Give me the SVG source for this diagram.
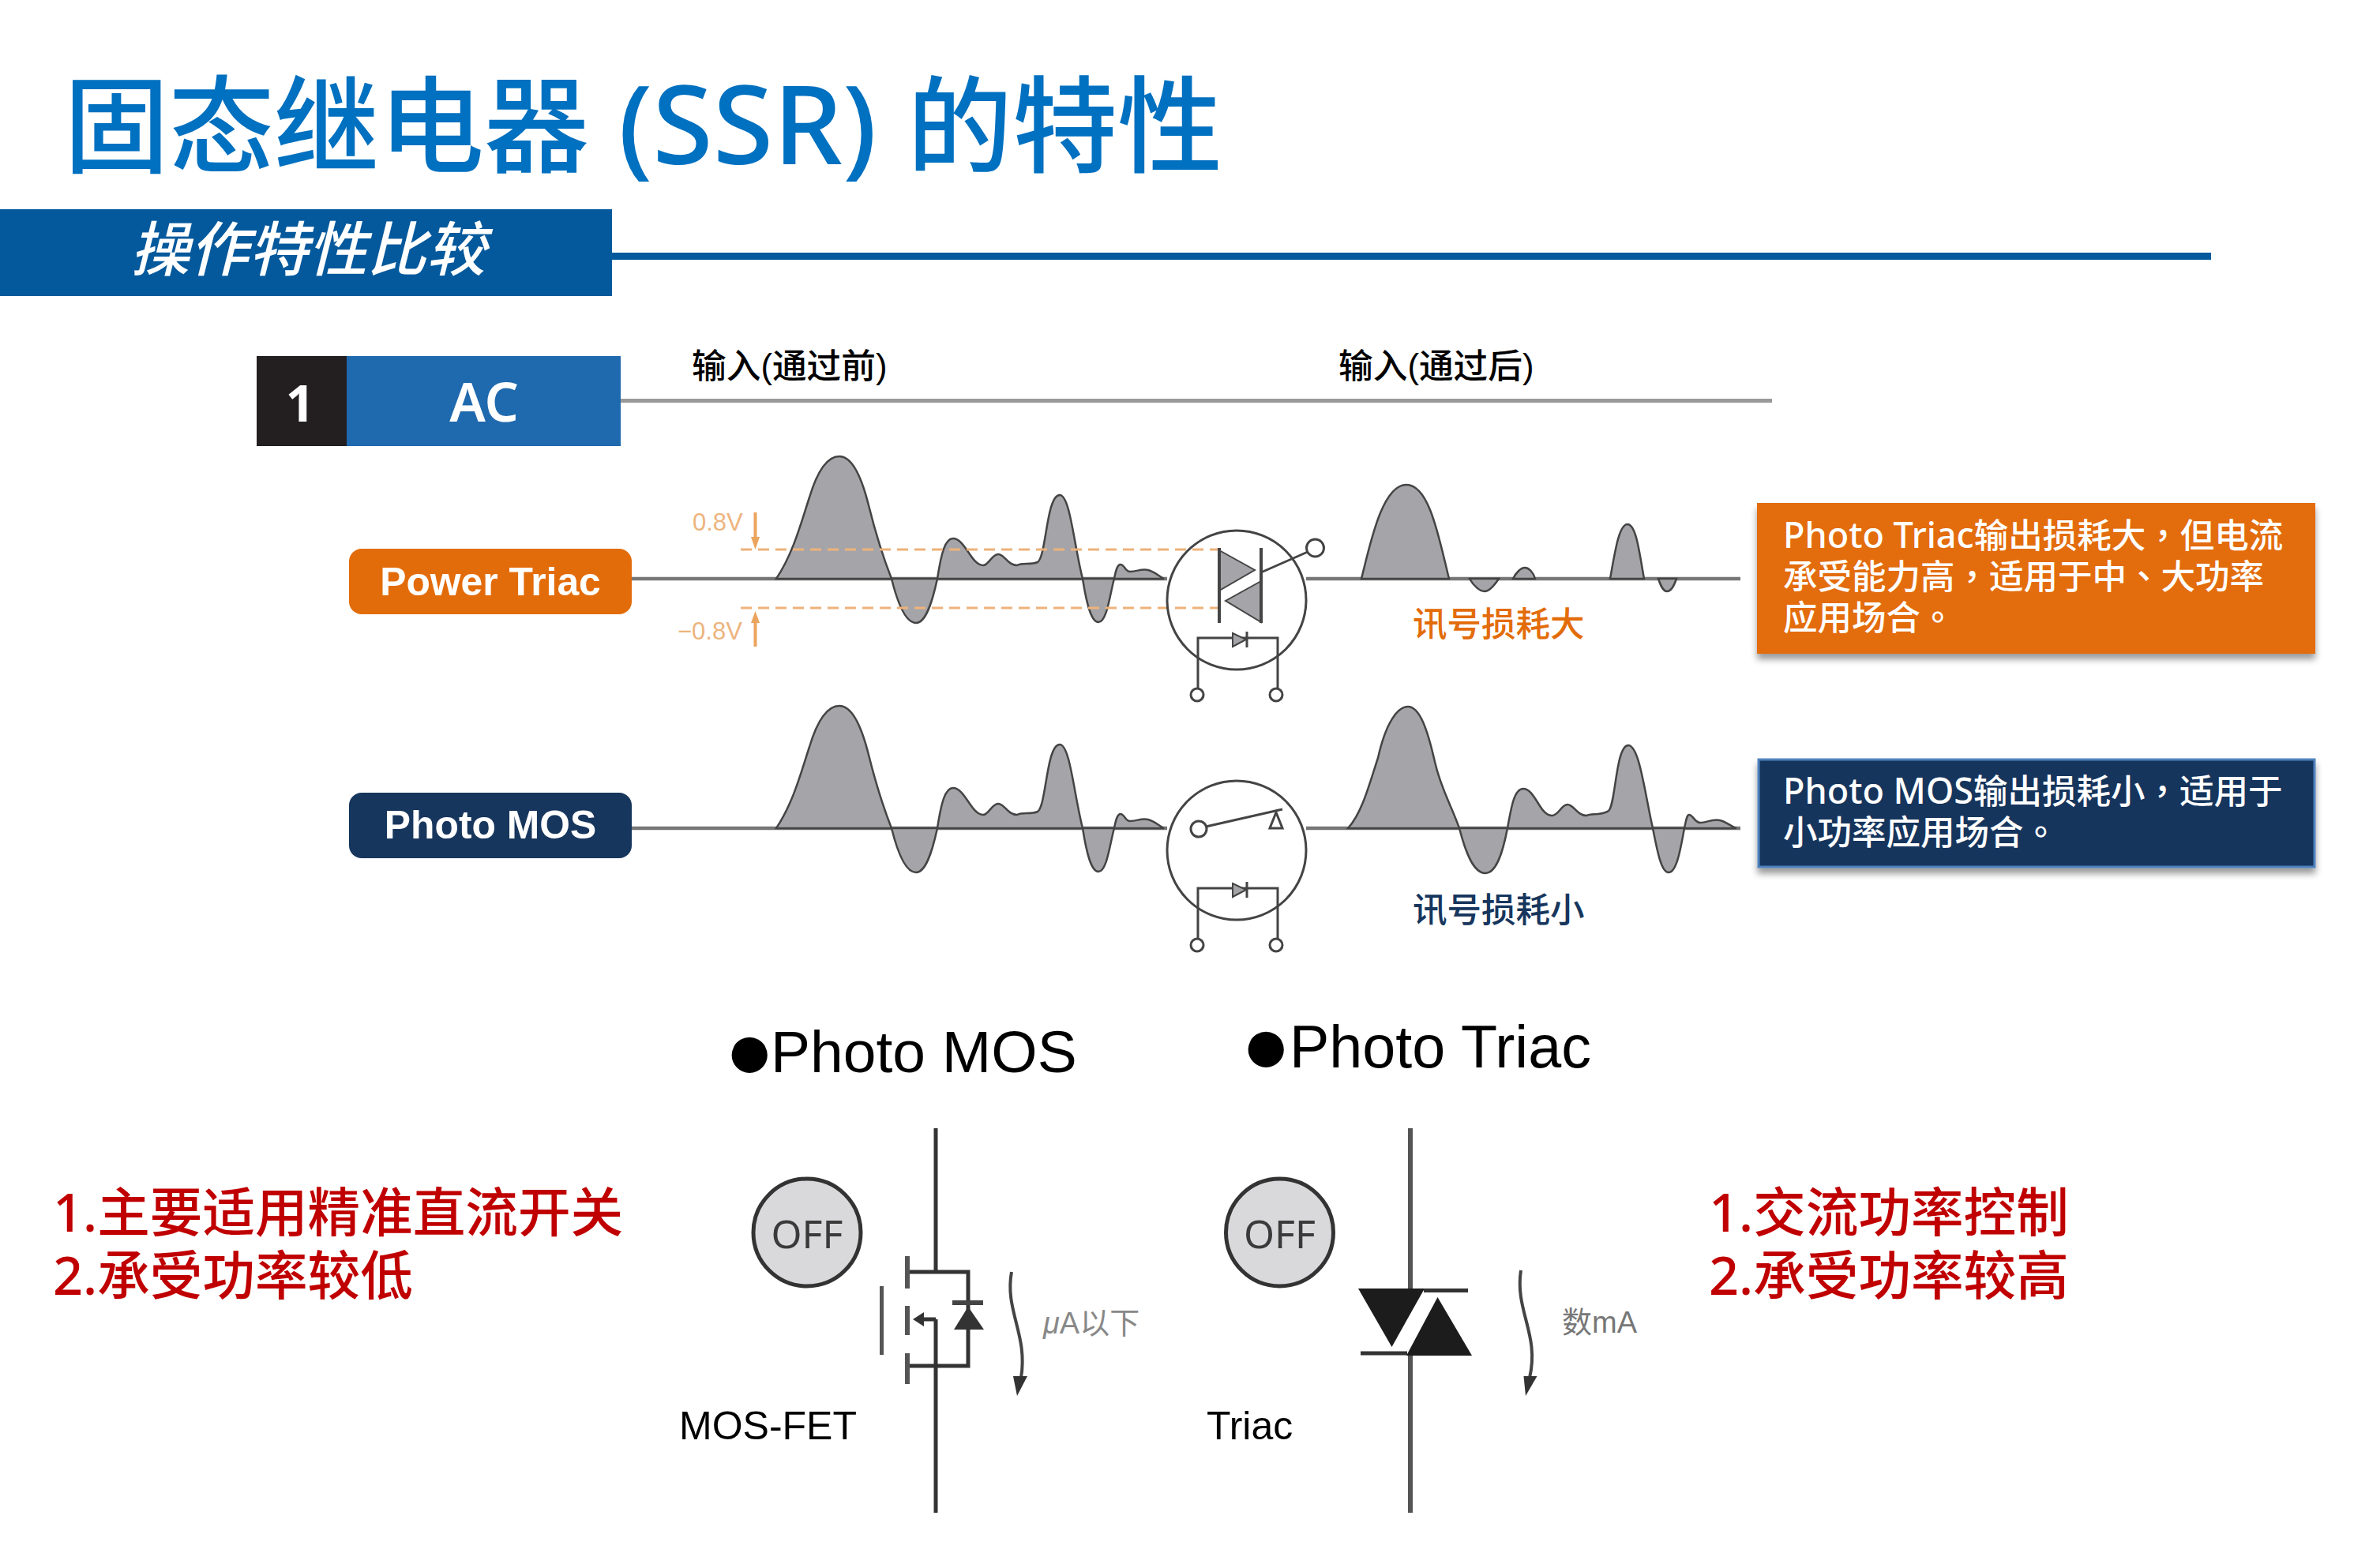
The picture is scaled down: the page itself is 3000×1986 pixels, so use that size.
<svg xmlns="http://www.w3.org/2000/svg" width="3000" height="1986" viewBox="0 0 3000 1986">
<style>
text{font-family:"Noto Sans","Noto Sans CJK SC",sans-serif}
.ar{font-family:"Liberation Sans","Noto Sans CJK SC",sans-serif}
.tc{font-family:"Noto Sans CJK TC",sans-serif}
.wave{fill:#a5a5a9;stroke:#444;stroke-width:2.5}
.base{stroke:#777;stroke-width:4.5;fill:none}
.thin{stroke:#444;stroke-width:3;fill:none}
.term{fill:#fff;stroke:#444;stroke-width:3}
.tri{fill:#a5a5a9;stroke:#444;stroke-width:2}
.dash{stroke:#eeb27a;stroke-width:3;stroke-dasharray:14 8;fill:none}
.box{font-size:43.500px;fill:#fff;font-weight:500}
.lat{font-size:45px}
.red{font-size:66.600px;fill:#c00000;font-weight:500}
.off{fill:#d9d9db;stroke:#333;stroke-width:5}
.offt{font-size:50px;fill:#3a3a3a;text-anchor:middle}
.ln{stroke:#333;stroke-width:5;fill:none}
</style>
<defs>
<filter id="sh" x="-5%" y="-10%" width="110%" height="125%"><feDropShadow dx="0" dy="7" stdDeviation="4" flood-color="#000" flood-opacity=".4"/></filter>
<path id="w1" class="wave" d="M983 733C1005 700 1015 660 1025 630C1037 590 1050 578 1063 578C1078 578 1090 600 1100 640C1110 680 1118 705 1129 733C1137 765 1147 789 1160 789C1172 789 1180 765 1187 733C1192 700 1197 682 1207 682C1222 682 1230 716 1245 716C1252 716 1256 702 1264 702C1272 702 1276 716 1288 716C1295 712 1305 716 1314 712C1325 705 1325 627 1342 627C1355 627 1360 690 1371 733C1376 765 1382 788 1391 788C1402 788 1406 750 1411 733C1413 722 1415 715 1419 715C1424 715 1425 724 1431 724C1440 724 1445 720 1454 722C1462 724 1468 730 1474 733Z"/>
<g id="diode"><path class="thin" d="M1517 873V808H1618V873"/><path class="tri" d="M1561 802L1578 810L1561 819Z"/><path class="thin" d="M1579 800V820"/><circle class="term" cx="1516" cy="880" r="8"/><circle class="term" cx="1616" cy="880" r="8"/></g>
</defs>
<rect width="3000" height="1986" fill="#fff"/>
<g id="title"><text y="208" font-size="133" font-weight="500" fill="#0070c0"><tspan x="81">固态继电器</tspan><tspan x="783" font-size="139">(SSR)</tspan><tspan x="1149">的特性</tspan></text></g>
<g id="banner"><rect x="0" y="265" width="775" height="110" fill="#04599c"/><rect x="775" y="320" width="2025" height="9" fill="#04599c"/><text x="165" y="343" font-size="75" font-style="italic" fill="#fff" font-weight="500">操作特性比较</text></g>
<g id="ac-header"><rect x="325" y="451" width="114" height="114" fill="#231f20"/><rect x="439" y="451" width="347" height="114" fill="#1f69ae"/><text x="380" y="534" font-size="64" fill="#fff" text-anchor="middle" font-weight="700">1</text><text x="613" y="534" font-size="68" fill="#fff" text-anchor="middle" font-weight="600">AC</text></g>
<g id="input-labels"><text class="ar" x="876" y="479" font-size="43.700" font-weight="500" fill="#000">输入(通过前)</text><text class="ar" x="1695" y="479" font-size="43.700" font-weight="500" fill="#000">输入(通过后)</text></g>
<g id="connectors">
<path style="stroke:#999;stroke-width:5;fill:none" d="M786 507.500H2244"/>
<path class="base" d="M800 733H1478M1654 733H2204M800 1049H1478M1654 1049H2204"/>
</g>
<g id="power-triac"><rect x="442" y="695" width="358" height="83" rx="16" fill="#e36c0a"/><text class="ar" x="621" y="754" font-size="49.800" font-weight="700" fill="#fff" text-anchor="middle">Power Triac</text></g>
<g id="photo-mos"><rect x="442" y="1004" width="358" height="83" rx="16" fill="#17365d"/><text class="ar" x="621" y="1062" font-size="49.800" font-weight="700" fill="#fff" text-anchor="middle">Photo MOS</text></g>
<g id="wave-triac">
<use href="#w1"/>
<path class="wave" d="M1724 733C1735 690 1750 614 1781 614C1810 614 1822 680 1835 733ZM1861 733H1898C1892 742 1886 749 1880 749C1874 749 1866 742 1861 733ZM1916 733C1920 725 1926 719 1931 719C1936 719 1942 725 1944 733ZM2039 733C2045 700 2050 664 2061 664C2072 664 2076 700 2082 733ZM2100 733H2123C2120 742 2116 749 2111 749C2106 749 2103 742 2100 733Z"/>
<path class="dash" d="M938 696H1543M938 770H1543"/>
<text class="ar" x="877" y="672" font-size="31" fill="#edb47e">0.8V</text>
<text class="ar" x="858" y="810" font-size="31" fill="#edb47e">−0.8V</text>
<path d="M956.500 649V684" stroke="#eba45e" stroke-width="4"/><path d="M951 680H962L956.500 696Z" fill="#eba45e"/>
<path d="M956.500 786V819" stroke="#eba45e" stroke-width="4"/><path d="M951 789H962L956.500 774Z" fill="#eba45e"/>
</g>
<g id="triac-symbol"><circle class="thin" cx="1566" cy="760" r="88"/><path class="tri" d="M1544 697L1589 722L1544 748Z"/><path class="tri" d="M1597 736L1552 761L1597 788Z"/><path d="M1544 694V789M1597 694V789" stroke="#444" stroke-width="4"/><path class="thin" d="M1597 725L1656 699"/><circle class="term" cx="1665.500" cy="694" r="11"/><use href="#diode"/></g>
<g id="wave-mos">
<use href="#w1" y="316"/>
<path class="wave" d="M1707 1049C1725 1030 1735 990 1745 960C1755 915 1770 895 1783 895C1798 895 1808 925 1817 965C1825 1000 1838 1020 1848 1049C1856 1080 1866 1106 1881 1106C1895 1106 1903 1080 1909 1049C1914 1020 1918 999 1929 999C1944 999 1950 1033 1965 1033C1974 1033 1977 1019 1985 1019C1993 1019 1997 1033 2009 1033C2015 1030 2028 1033 2037 1027C2046 1020 2046 944 2062 944C2076 944 2083 1005 2093 1049C2099 1080 2104 1105 2113 1105C2124 1105 2129 1070 2133 1049C2135 1040 2136 1032 2139 1032C2144 1032 2146 1042 2153 1042C2161 1042 2168 1037 2178 1039C2187 1041 2192 1047 2199 1049Z"/>
</g>
<g id="mos-symbol"><circle class="thin" cx="1566" cy="1077" r="88"/><circle class="term" cx="1518" cy="1050" r="10"/><path class="thin" d="M1527 1047L1624 1025"/><path class="thin" d="M1616 1029L1608 1049H1624Z"/><use href="#diode" y="317"/></g>
<g id="note-triac"><rect x="2225" y="637" width="707" height="191" fill="#e36c0a" filter="url(#sh)"/><text class="box" x="2258" y="694"><tspan class="lat">Photo Triac</tspan>输出损耗大<tspan class="tc">，</tspan>但电流</text><text class="box" x="2258" y="746">承受能力高<tspan class="tc">，</tspan>适用于中<tspan class="tc">、</tspan>大功率</text><text class="box" x="2258" y="798">应用场合<tspan class="tc">。</tspan></text></g>
<g id="note-mos"><rect x="2227" y="962" width="704" height="136" fill="#17365d" stroke="#4f81bd" stroke-width="3" filter="url(#sh)"/><text class="box" x="2258" y="1018"><tspan class="lat">Photo MOS</tspan>输出损耗小<tspan class="tc">，</tspan>适用于</text><text class="box" x="2258" y="1070">小功率应用场合<tspan class="tc">。</tspan></text></g>
<text x="1789" y="806" font-size="43.500" fill="#e36c0a" font-weight="500">讯号损耗大</text>
<text x="1789" y="1168" font-size="43.500" fill="#17365d" font-weight="500">讯号损耗小</text>
<text class="ar"><tspan x="917.500" y="1366" font-size="105">●</tspan><tspan x="976" y="1358" font-size="75">Photo MOS</tspan></text>
<text class="ar"><tspan x="1571.500" y="1358.500" font-size="105">●</tspan><tspan x="1633" y="1352" font-size="75.500">Photo Triac</tspan></text>
<text class="red" x="67" y="1560">1.主要适用精准直流开关</text><text class="red" x="67" y="1640">2.承受功率较低</text>
<text class="red" x="2164" y="1560">1.交流功率控制</text><text class="red" x="2164" y="1640">2.承受功率较高</text>
<g id="mosfet">
<circle class="off" cx="1022" cy="1561" r="68"/><text class="offt" x="1022" y="1581">OFF</text>
<path class="ln" d="M1185 1429V1611M1185 1671V1916M1149 1611H1226V1730H1149"/>
<path d="M1116.500 1629V1716" stroke="#555" stroke-width="5"/>
<path d="M1149 1591V1632M1149 1654V1691M1149 1714V1753" stroke="#555" stroke-width="6"/>
<path class="ln" d="M1185 1671H1165"/><path d="M1156 1671L1170 1662V1680Z" fill="#333"/>
<path d="M1206 1650H1245" stroke="#444" stroke-width="6"/><path d="M1226 1655L1246 1684H1208Z" fill="#333"/>
<path d="M1281 1611C1272 1660 1302 1690 1293 1745" stroke="#444" stroke-width="4" fill="none"/><path d="M1283 1743H1301L1288 1768Z" fill="#333"/>
<text class="ar" x="1321" y="1689" font-size="38" fill="#888"><tspan font-style="italic">μ</tspan>A以下</text>
<text class="ar" x="860" y="1823" font-size="50">MOS-FET</text>
</g>
<g id="triac">
<circle class="off" cx="1620.500" cy="1561" r="68"/><text class="offt" x="1620.500" y="1581">OFF</text>
<path d="M1786 1429V1632M1786 1717V1916" stroke="#555" stroke-width="6" fill="none"/>
<path d="M1720 1632H1804L1762.500 1706Z" fill="#1c1c1c"/><path d="M1803 1634.500H1859" stroke="#333" stroke-width="5"/>
<path d="M1820.500 1643L1864 1717H1781Z" fill="#1c1c1c"/><path d="M1723 1714H1782" stroke="#333" stroke-width="5"/>
<path d="M1926 1609C1918 1660 1950 1690 1937 1745" stroke="#444" stroke-width="4" fill="none"/><path d="M1929.500 1743H1946.500L1932 1768Z" fill="#333"/>
<text class="ar" x="1978" y="1688" font-size="38" fill="#777">数mA</text>
<text class="ar" x="1528" y="1823" font-size="50">Triac</text>
</g>
</svg>
